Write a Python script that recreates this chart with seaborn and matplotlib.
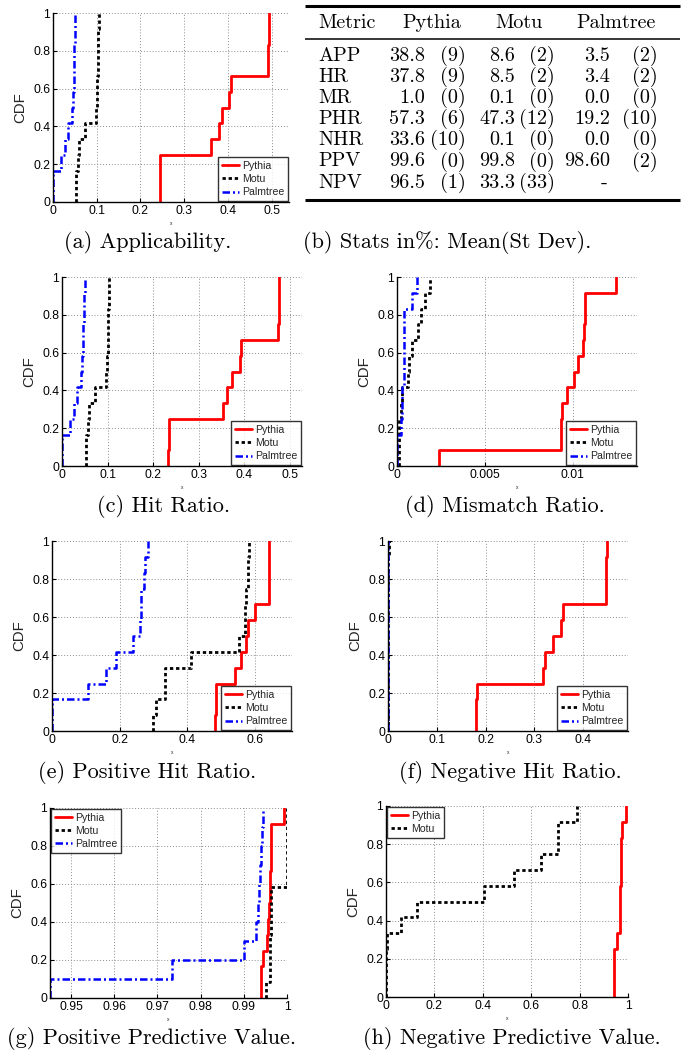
import numpy as np
import matplotlib
matplotlib.use("Agg")
import matplotlib.pyplot as plt
import seaborn as sns
from matplotlib.ticker import FuncFormatter

# ---------------- data ----------------
tools = ["Pythia", "Motu", "Palmtree"]

# (a) Applicability
app_pythia = [0.244, 0.245, 0.245, 0.361, 0.379, 0.386, 0.403, 0.407, 0.492, 0.493, 0.494, 0.494]
app_motu = [0.052, 0.053, 0.058, 0.059, 0.073, 0.098, 0.100, 0.101, 0.102, 0.103, 0.104, 0.106]
app_palm = [0.0, 0.0, 0.019, 0.028, 0.034, 0.043, 0.045, 0.047, 0.048, 0.049, 0.050, 0.051]

# (c) Hit Ratio
hr_pythia = [0.233, 0.234, 0.235, 0.354, 0.362, 0.373, 0.390, 0.393, 0.475, 0.476, 0.477, 0.477]
hr_motu = [0.052, 0.053, 0.058, 0.059, 0.073, 0.097, 0.099, 0.100, 0.101, 0.102, 0.103, 0.104]
hr_palm = [0.0, 0.0, 0.018, 0.027, 0.034, 0.042, 0.044, 0.046, 0.047, 0.048, 0.049, 0.050]

# (d) Mismatch Ratio
mr_pythia = [0.0024, 0.0093, 0.00933, 0.00936, 0.00966, 0.01004, 0.0103, 0.0106, 0.01066, 0.01067, 0.01068, 0.01245]
mr_motu = [0.0001, 0.0001, 0.0001, 0.0002, 0.0003, 0.0006, 0.0007, 0.00086, 0.0012, 0.00137, 0.0016, 0.00186]
mr_palm = [0.0, 0.0, 0.0002, 0.0003, 0.0003, 0.0004, 0.0004, 0.0004, 0.0004, 0.0004, 0.00086, 0.00114]

# (e) Positive Hit Ratio
phr_pythia = [0.483, 0.484, 0.485, 0.542, 0.557, 0.572, 0.579, 0.601, 0.640, 0.641, 0.641, 0.642]
phr_motu = [0.298, 0.306, 0.333, 0.334, 0.412, 0.553, 0.569, 0.571, 0.572, 0.578, 0.580, 0.582]
phr_palm = [0.0, 0.0, 0.106, 0.161, 0.190, 0.239, 0.259, 0.262, 0.264, 0.272, 0.276, 0.284]

# (f) Negative Hit Ratio
nhr_pythia = [0.180, 0.181, 0.183, 0.318, 0.321, 0.338, 0.354, 0.358, 0.446, 0.447, 0.447, 0.448]
nhr_motu = [0.0, 0.0, 0.0, 0.0, 0.0, 0.0, 0.0, 0.0, 0.0, 0.001, 0.001, 0.002]
nhr_palm = [0.0, 0.0, 0.0, 0.0, 0.0, 0.0, 0.0, 0.0, 0.0, 0.0, 0.0, 0.0]

# (g) Positive Predictive Value
ppv_pythia = [0.994, 0.994, 0.9945, 0.9953, 0.9957, 0.9958, 0.996, 0.9961, 0.9962, 0.9963, 0.9964, 0.9992]
ppv_motu = [0.9952, 0.996, 0.996, 0.9961, 0.9962, 0.9963, 0.9964, 1.0, 1.0, 1.0, 1.0, 1.0]
ppv_palm = [0.945, 0.9733, 0.9901, 0.9929, 0.9933, 0.9936, 0.9938, 0.9940, 0.9942, 0.9944]

# (h) Negative Predictive Value
npv_pythia = [0.941, 0.941, 0.942, 0.955, 0.965, 0.966, 0.967, 0.970, 0.972, 0.973, 0.974, 0.993]
npv_motu = [0.0, 0.0, 0.0, 0.004, 0.063, 0.128, 0.404, 0.528, 0.640, 0.709, 0.709, 0.789]

# (b) table
tbl_header = ["Metric", "Pythia", "Motu", "Palmtree"]
tbl_metrics = ["APP", "HR", "MR", "PHR", "NHR", "PPV", "NPV"]
tbl_pythia_mean = ["38.8", "37.8", "1.0", "57.3", "33.6", "99.6", "96.5"]
tbl_pythia_sd = ["(9)", "(9)", "(0)", "(6)", "(10)", "(0)", "(1)"]
tbl_motu_mean = ["8.6", "8.5", "0.1", "47.3", "0.1", "99.8", "33.3"]
tbl_motu_sd = ["(2)", "(2)", "(0)", "(12)", "(0)", "(0)", "(33)"]
tbl_palm_mean = ["3.5", "3.4", "0.0", "19.2", "0.0", "98.60", "-"]
tbl_palm_sd = ["(2)", "(2)", "(0)", "(10)", "(0)", "(2)", ""]

captions = ["(a) Applicability.", "(b) Stats in%: Mean(St Dev).", "(c) Hit Ratio.",
            "(d) Mismatch Ratio.", "(e) Positive Hit Ratio.", "(f) Negative Hit Ratio.",
            "(g) Positive Predictive Value.", "(h) Negative Predictive Value."]

# ---------------- style ----------------
sns.set_style("white")
plt.rcParams["font.family"] = ["Liberation Sans", "DejaVu Sans"]

W, H = 688, 1059
fig = plt.figure(figsize=(W / 100, H / 100), dpi=100)

styles = {
    "Pythia": dict(color="#ff0000", linestyle="-", linewidth=2.0),
    "Motu": dict(color="#000000", linestyle=(0, (1.2, 1.0)), linewidth=2.0),
    "Palmtree": dict(color="#0000ff", linestyle=(0, (3.0, 1.2, 0.8, 1.2)), linewidth=1.8),
}


def px_axes(l, t, r, b):
    return fig.add_axes([l / W, 1 - b / H, (r - l) / W, (b - t) / H])


fmt = FuncFormatter(lambda v, p: "%g" % round(v, 6))


def cdf_panel(box, series, xlim, xticks, loc):
    ax = px_axes(*box)
    for name, vals in series:
        sns.ecdfplot(x=np.asarray(vals, dtype=float), ax=ax, label=name, **styles[name])
    ax.set_xlim(*xlim)
    ax.set_ylim(0, 1)
    ax.set_xticks(xticks)
    ax.set_yticks([0, 0.2, 0.4, 0.6, 0.8, 1.0])
    ax.xaxis.set_major_formatter(fmt)
    ax.yaxis.set_major_formatter(fmt)
    ax.set_axisbelow(True)
    ax.grid(True, linestyle=(0, (1, 2)), color="#8c8c8c", linewidth=0.7)
    for s in ["top", "right"]:
        ax.spines[s].set_visible(False)
    for s in ["left", "bottom"]:
        ax.spines[s].set_color("black")
        ax.spines[s].set_linewidth(1.0)
    ax.tick_params(direction="in", length=3, width=0.8, labelsize=8.7, pad=2,
                   left=True, bottom=True, colors="black")
    ax.set_ylabel("CDF", fontsize=10.8, labelpad=4)
    ax.set_xlabel("x", fontsize=3.5, labelpad=3)
    leg = ax.legend(loc=loc, fontsize=7.6, frameon=True, fancybox=False, borderpad=0.35,
                    labelspacing=0.3, handlelength=1.6, handletextpad=0.3,
                    borderaxespad=0.1)
    leg.get_frame().set_edgecolor("black")
    leg.get_frame().set_linewidth(1.0)
    return ax


cdf_panel((53, 13, 289, 202),
          [("Pythia", app_pythia), ("Motu", app_motu), ("Palmtree", app_palm)],
          (0, 0.54), [0, 0.1, 0.2, 0.3, 0.4, 0.5], "lower right")
cdf_panel((62, 277, 302, 466),
          [("Pythia", hr_pythia), ("Motu", hr_motu), ("Palmtree", hr_palm)],
          (0, 0.527), [0, 0.1, 0.2, 0.3, 0.4, 0.5], "lower right")
cdf_panel((397, 277, 637, 466),
          [("Pythia", mr_pythia), ("Motu", mr_motu), ("Palmtree", mr_palm)],
          (0, 0.01365), [0, 0.005, 0.01], "lower right")
cdf_panel((52, 541, 292, 731),
          [("Pythia", phr_pythia), ("Motu", phr_motu), ("Palmtree", phr_palm)],
          (0, 0.709), [0, 0.2, 0.4, 0.6], "lower right")
cdf_panel((388, 541, 628, 731),
          [("Pythia", nhr_pythia), ("Motu", nhr_motu), ("Palmtree", nhr_palm)],
          (0, 0.492), [0, 0.1, 0.2, 0.3, 0.4], "lower right")
cdf_panel((50, 808, 287, 998),
          [("Pythia", ppv_pythia), ("Motu", ppv_motu), ("Palmtree", ppv_palm)],
          (0.9451, 1.0), [0.95, 0.96, 0.97, 0.98, 0.99, 1.0], "upper left")
cdf_panel((386, 806, 628, 997),
          [("Pythia", npv_pythia), ("Motu", npv_motu)],
          (0, 1.0), [0, 0.2, 0.4, 0.6, 0.8, 1.0], "upper left")

# ---------------- overlay: table + captions (pixel coordinates) ----------------
ov = fig.add_axes([0, 0, 1, 1], zorder=-1)
ov.set_xlim(0, W)
ov.set_ylim(H, 0)
ov.axis("off")
serif = dict(family="cmr10", color="black")
tfs = 14.5

ov.hlines(6, 305, 680, color="black", linewidth=2.2)
ov.hlines(39, 305, 680, color="black", linewidth=1.1)
ov.hlines(200, 305, 680, color="black", linewidth=2.2)
hy = 23
ov.text(318, hy, tbl_header[0], ha="left", va="center", fontsize=tfs, **serif)
ov.text(432, hy, tbl_header[1], ha="center", va="center", fontsize=tfs, **serif)
ov.text(519, hy, tbl_header[2], ha="center", va="center", fontsize=tfs, **serif)
ov.text(616, hy, tbl_header[3], ha="center", va="center", fontsize=tfs, **serif)
for i, m in enumerate(tbl_metrics):
    y = 56 + i * 21.1
    ov.text(318, y, m, ha="left", va="center", fontsize=tfs, **serif)
    ov.text(425, y, tbl_pythia_mean[i], ha="right", va="center", fontsize=tfs, **serif)
    ov.text(466, y, tbl_pythia_sd[i], ha="right", va="center", fontsize=tfs, **serif)
    ov.text(515, y, tbl_motu_mean[i], ha="right", va="center", fontsize=tfs, **serif)
    ov.text(555, y, tbl_motu_sd[i], ha="right", va="center", fontsize=tfs, **serif)
    if tbl_palm_mean[i] == "-":
        ov.text(604, y, tbl_palm_mean[i], ha="center", va="center", fontsize=tfs, **serif)
    else:
        ov.text(610, y, tbl_palm_mean[i], ha="right", va="center", fontsize=tfs, **serif)
    ov.text(658, y, tbl_palm_sd[i], ha="right", va="center", fontsize=tfs, **serif)

cap_pos = [(148, 242), (447, 242), (164, 507), (505, 507),
           (147, 773), (510, 773), (152, 1038), (512, 1038)]
for (cx, cy), txt in zip(cap_pos, captions):
    ov.text(cx, cy, txt, ha="center", va="center", fontsize=16, **serif)

fig.savefig("out.png", dpi=100)
